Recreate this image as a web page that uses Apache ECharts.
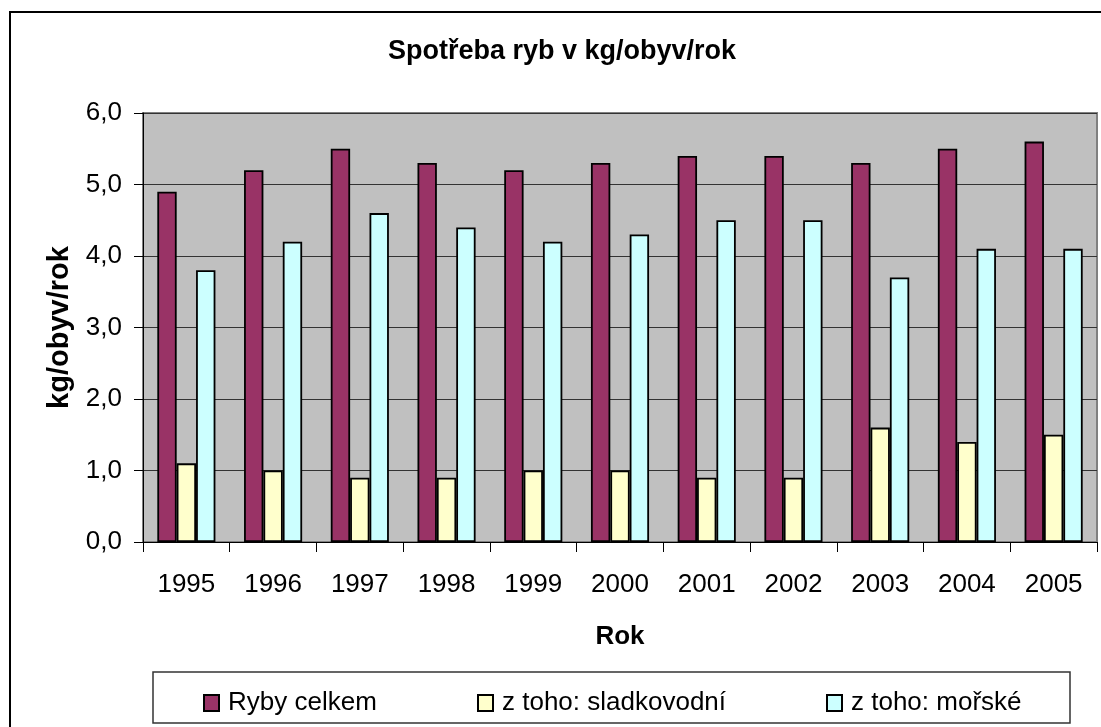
<!DOCTYPE html>
<html lang="cs">
<head>
<meta charset="UTF-8">
<title>Spotřeba ryb</title>
<script src="https://cdn.jsdelivr.net/npm/echarts@6/dist/echarts.min.js"></script>
<style>
body {margin: 0; padding: 0; background: white;}
#main {width: 1101px; height: 727px;}
</style>
</head>
<body>
<div id="main"></div>
<script>
// data
var years = ['1995', '1996', '1997', '1998', '1999', '2000', '2001', '2002', '2003', '2004', '2005'];
var rybyCelkem = [4.9, 5.2, 5.5, 5.3, 5.2, 5.3, 5.4, 5.4, 5.3, 5.5, 5.6];
var sladkovodni = [1.1, 1.0, 0.9, 0.9, 1.0, 1.0, 0.9, 0.9, 1.6, 1.4, 1.5];
var morske = [3.8, 4.2, 4.6, 4.4, 4.2, 4.3, 4.5, 4.5, 3.7, 4.1, 4.1];
var seriesNames = ['Ryby celkem', 'z toho: sladkovodní', 'z toho: mořské'];

var chart = echarts.init(document.getElementById('main'));
var font = '"Liberation Sans", Arial, sans-serif';

function legendAt(name, left) {
    return {
        data: [name],
        left: left,
        top: 690,
        icon: 'rect',
        itemWidth: 15,
        itemHeight: 16,
        itemGap: 0,
        padding: 0,
        textStyle: {fontFamily: font, fontSize: 26, color: '#000', padding: [0, 0, 0, 4]}
    };
}

chart.setOption({
    animation: false,
    title: {
        text: 'Spotřeba ryb v kg/obyv/rok',
        left: 383,
        top: 33,
        textStyle: {fontFamily: font, fontSize: 27, fontWeight: 'bold', color: '#000'}
    },
    graphic: [
        {type: 'rect', shape: {x: 10, y: 12, width: 1200, height: 800},
         style: {fill: 'none', stroke: '#000', lineWidth: 2}, silent: true},
        {type: 'rect', shape: {x: 153, y: 672, width: 917, height: 51},
         style: {fill: 'none', stroke: '#333', lineWidth: 1.5}, silent: true}
    ],
    legend: [
        legendAt(seriesNames[0], 203),
        legendAt(seriesNames[1], 477),
        legendAt(seriesNames[2], 826)
    ],
    grid: {
        left: 143, top: 113, right: 4, bottom: 185,
        show: true,
        backgroundColor: '#C0C0C0',
        borderColor: '#808080',
        borderWidth: 2
    },
    xAxis: {
        type: 'category',
        data: years,
        name: 'Rok',
        nameLocation: 'middle',
        nameGap: 82,
        nameTextStyle: {fontFamily: font, fontSize: 26, fontWeight: 'bold', color: '#000'},
        axisLine: {lineStyle: {color: '#000', width: 1}},
        axisTick: {show: true, length: 10, lineStyle: {color: '#000'}},
        axisLabel: {fontFamily: font, fontSize: 26, color: '#000', margin: 30}
    },
    yAxis: {
        type: 'value',
        min: 0,
        max: 6,
        interval: 1,
        name: 'kg/obyv/rok',
        nameLocation: 'middle',
        nameRotate: 90,
        nameGap: 69,
        nameTextStyle: {fontFamily: font, fontSize: 29, fontWeight: 'bold', color: '#000'},
        axisLine: {show: true, lineStyle: {color: '#000', width: 1}},
        axisTick: {show: true, length: 9, lineStyle: {color: '#000'}},
        axisLabel: {
            fontFamily: font, fontSize: 26, color: '#000', margin: 21,
            formatter: function (v) { return v.toFixed(1).replace('.', ','); }
        },
        splitLine: {lineStyle: {color: '#333', width: 1}}
    },
    series: [
        {
            name: seriesNames[0], type: 'bar', data: rybyCelkem,
            barGap: 0, barCategoryGap: '33%',
            itemStyle: {color: '#993366', borderColor: '#000', borderWidth: 1.8}
        },
        {
            name: seriesNames[1], type: 'bar', data: sladkovodni,
            itemStyle: {color: '#FFFFCC', borderColor: '#000', borderWidth: 1.8}
        },
        {
            name: seriesNames[2], type: 'bar', data: morske,
            itemStyle: {color: '#CCFFFF', borderColor: '#000', borderWidth: 1.8}
        }
    ]
});
</script>
</body>
</html>
